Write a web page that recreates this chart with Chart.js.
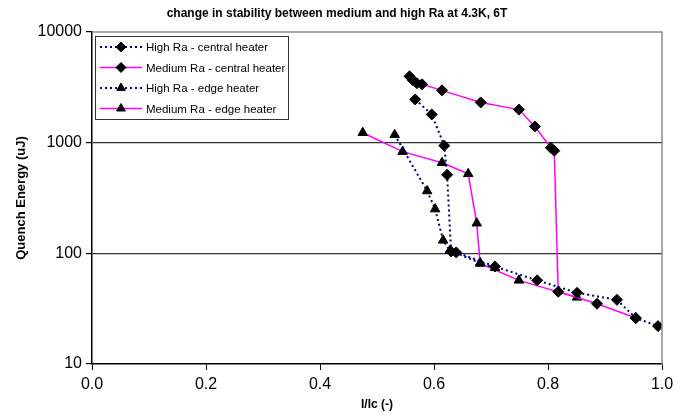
<!DOCTYPE html>
<html>
<head>
<meta charset="utf-8">
<script src="https://cdn.jsdelivr.net/npm/chart.js@4/dist/chart.umd.min.js"></script>
<style>
  html, body { margin: 0; padding: 0; background: #fff; }
  #wrap { width: 690px; height: 417px; }
</style>
</head>
<body>
<div id="wrap"><canvas id="stabilityChart" width="690" height="417"></canvas></div>
<script>
// values (I/Ic, quench energy in uJ)
var highCentralX = [0.567, 0.596, 0.618, 0.623, 0.630, 0.639, 0.707, 0.781, 0.851, 0.921, 0.954, 0.993];
var highCentralY = [2460, 1800, 940, 512, 104, 102, 76, 57, 44, 38, 26, 22];

var mediumCentralX = [0.557, 0.563, 0.570, 0.579, 0.614, 0.682, 0.749, 0.777, 0.805, 0.811, 0.818, 0.886, 0.954];
var mediumCentralY = [3980, 3660, 3450, 3370, 2970, 2310, 1990, 1400, 900, 846, 45, 35, 26];

var highEdgeX = [0.531, 0.588, 0.602, 0.616, 0.628, 0.681, 0.707];
var highEdgeY = [1180, 366, 251, 131, 106, 82, 74];

var mediumEdgeX = [0.475, 0.545, 0.614, 0.660, 0.675, 0.681, 0.749, 0.851];
var mediumEdgeY = [1230, 830, 658, 523, 187, 81, 57, 40];

var yTicks = [10, 100, 1000, 10000];
var xTicks = [0, 0.2, 0.4, 0.6, 0.8, 1.0];

var seriesNames = ['High Ra - central heater', 'Medium Ra - central heater', 'High Ra - edge heater', 'Medium Ra - edge heater'];

function pairs(xs, ys) {
    return xs.map(function (x, i) { return { x: x, y: ys[i] }; });
}

function series(name, xs, ys, dotted, marker) {
    return {
        label: name,
        data: pairs(xs, ys),
        showLine: true,
        borderColor: dotted ? '#000080' : '#ff00ff',
        borderWidth: dotted ? 2 : 1.5,
        borderDash: dotted ? [2, 3] : [],
        pointStyle: marker,
        pointRadius: marker === 'rectRot' ? 5.5 : 5.5,
        pointBackgroundColor: '#000',
        pointBorderColor: '#000',
        pointBorderWidth: 1,
        tension: 0
    };
}

// title, gray top/right frame, line+marker legend box
var decorPlugin = {
    id: 'decor',
    afterDraw: function (chart) {
        var ctx = chart.ctx;
        var a = chart.chartArea;
        ctx.save();
        ctx.strokeStyle = '#8c8c8c';
        ctx.lineWidth = 1.5;
        ctx.beginPath();
        ctx.moveTo(a.left, a.top);
        ctx.lineTo(a.right, a.top);
        ctx.lineTo(a.right, a.bottom);
        ctx.stroke();

        ctx.fillStyle = '#000';
        ctx.font = 'bold 12px "Liberation Sans", Arial, sans-serif';
        ctx.textAlign = 'center';
        ctx.textBaseline = 'middle';
        ctx.fillText('change in stability between medium and high Ra at 4.3K, 6T', 337, 14);

        // legend
        var bx = 95, by = 36, bw = 193, bh = 83;
        ctx.fillStyle = '#fff';
        ctx.fillRect(bx, by, bw, bh);
        ctx.strokeStyle = '#333';
        ctx.lineWidth = 1;
        ctx.strokeRect(bx + 0.5, by + 0.5, bw, bh);
        chart.data.datasets.forEach(function (ds, i) {
            var ly = by + 11 + i * 20.5;
            ctx.save();
            ctx.strokeStyle = ds.borderColor;
            ctx.lineWidth = ds.borderWidth;
            ctx.setLineDash(ds.borderDash);
            ctx.beginPath();
            ctx.moveTo(bx + 5, ly);
            ctx.lineTo(bx + 47, ly);
            ctx.stroke();
            ctx.restore();
            ctx.fillStyle = '#000';
            ctx.strokeStyle = '#000';
            Chart.helpers.drawPoint(ctx, { pointStyle: ds.pointStyle, radius: 5, rotation: 0, borderWidth: 1 }, bx + 26, ly);
            ctx.fillStyle = '#000';
            ctx.font = '11.5px "Liberation Sans", Arial, sans-serif';
            ctx.textAlign = 'left';
            ctx.textBaseline = 'middle';
            ctx.fillText(seriesNames[i], bx + 51, ly + 1);
        });
        ctx.restore();
    }
};

document.addEventListener('DOMContentLoaded', function () {
    var ctx = document.getElementById('stabilityChart').getContext('2d');
    var stabilityChart = new Chart(ctx, {
        type: 'scatter',
        data: {
            datasets: [
                series(seriesNames[0], highCentralX, highCentralY, true, 'rectRot'),
                series(seriesNames[1], mediumCentralX, mediumCentralY, false, 'rectRot'),
                series(seriesNames[2], highEdgeX, highEdgeY, true, 'triangle'),
                series(seriesNames[3], mediumEdgeX, mediumEdgeY, false, 'triangle')
            ]
        },
        options: {
            responsive: false,
            animation: false,
            layout: {
                padding: { top: 32, right: 28, bottom: 0, left: 0 }
            },
            scales: {
                x: {
                    type: 'linear',
                    min: 0,
                    max: 1,
                    afterBuildTicks: function (scale) {
                        scale.ticks = xTicks.map(function (v) { return { value: v }; });
                    },
                    afterFit: function (scale) { scale.height = 53; },
                    ticks: {
                        color: '#000',
                        font: { family: '"Liberation Sans", Arial, sans-serif', size: 16 },
                        padding: 5,
                        callback: function (v) { return Number(v).toFixed(1); }
                    },
                    grid: {
                        drawOnChartArea: false,
                        tickLength: 6,
                        tickColor: '#000'
                    },
                    border: { color: '#000', width: 1.5 },
                    title: {
                        display: true,
                        text: 'I/Ic (-)',
                        color: '#000',
                        font: { family: '"Liberation Sans", Arial, sans-serif', size: 12, weight: 'bold' },
                        padding: { top: 0, bottom: 5 }
                    }
                },
                y: {
                    type: 'logarithmic',
                    min: 10,
                    max: 10000,
                    afterBuildTicks: function (scale) {
                        scale.ticks = yTicks.map(function (v) { return { value: v }; });
                    },
                    afterFit: function (scale) { scale.width = 92; },
                    ticks: {
                        color: '#000',
                        font: { family: '"Liberation Sans", Arial, sans-serif', size: 16 },
                        padding: 4,
                        callback: function (v) { return String(v); }
                    },
                    grid: {
                        color: function (c) {
                            return (c.tick && (c.tick.value === 100 || c.tick.value === 1000)) ? '#333' : 'rgba(0,0,0,0)';
                        },
                        lineWidth: 1.2,
                        tickLength: 6,
                        tickColor: '#000'
                    },
                    border: { color: '#000', width: 1.5 },
                    title: {
                        display: true,
                        text: 'Quench Energy (uJ)',
                        color: '#000',
                        font: { family: '"Liberation Sans", Arial, sans-serif', size: 13, weight: 'bold' },
                        padding: { top: 14, bottom: 0 }
                    }
                }
            },
            plugins: {
                legend: { display: false },
                tooltip: { enabled: false }
            }
        },
        plugins: [decorPlugin]
    });
});
</script>
</body>
</html>
